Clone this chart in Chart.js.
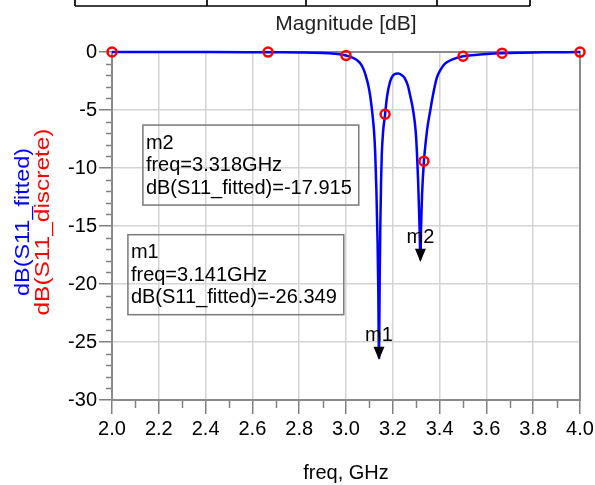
<!DOCTYPE html>
<html>
<head>
<meta charset="utf-8">
<script src="https://cdn.jsdelivr.net/npm/chart.js@4"></script>
<style>
  html, body { margin: 0; padding: 0; background: #fff; }
</style>
</head>
<body>
<canvas id="myChart" width="595" height="485"></canvas>
<script>
'use strict';

// fitted curve
const freqFit = [2.0, 2.2, 2.4, 2.6, 2.7, 2.8, 2.9, 2.95, 3.0, 3.03, 3.05, 3.067, 3.08, 3.088, 3.095,
  3.103, 3.112, 3.12, 3.125, 3.13, 3.135, 3.138, 3.141, 3.144, 3.147, 3.15, 3.153, 3.158, 3.167,
  3.175, 3.188, 3.2, 3.212, 3.224, 3.237, 3.252, 3.265, 3.274, 3.288, 3.298, 3.303, 3.308, 3.312,
  3.315, 3.318, 3.321, 3.325, 3.333, 3.34, 3.348, 3.359, 3.37, 3.387, 3.405, 3.423, 3.45, 3.5,
  3.55, 3.6, 3.667, 3.75, 3.85, 4.0];
const dbFit = [0, -0.01, -0.01, -0.02, -0.03, -0.04, -0.08, -0.15, -0.3, -0.5, -0.75, -1.15, -1.75, -2.29, -2.85,
  -3.73, -5.17, -6.89, -8.8, -12.0, -16.5, -20.5, -26.349, -19.5, -14.5, -11.0, -8.8, -7.0, -5.37,
  -3.9, -2.58, -2.05, -1.88, -1.86, -1.98, -2.29, -2.95, -3.73, -5.17, -6.89, -8.61, -11.0, -13.5,
  -15.6, -17.915, -15.0, -12.3, -9.41, -7.9, -6.5, -5.17, -3.9, -2.29, -1.5, -1.0, -0.68, -0.37,
  -0.25, -0.17, -0.1, -0.06, -0.03, -0.01];

// discrete samples
const freqDisc = [2.0, 2.667, 3.0, 3.167, 3.333, 3.5, 3.667, 4.0];
const dbDisc = [0, -0.01, -0.3, -5.37, -9.41, -0.37, -0.1, -0.01];

// markers
const markerNames = ['m1', 'm2'];
const markerFreq = [3.141, 3.318];
const markerDb = [-26.349, -17.915];

const FONT = "'Liberation Sans', Arial, sans-serif";
const font20 = { family: FONT, size: 20 };

const decor = {
  id: 'decor',
  beforeDatasetsDraw(chart) {
    const { ctx, chartArea: a, scales: { x, y } } = chart;
    ctx.save();
    // minor ticks
    ctx.strokeStyle = '#808080';
    ctx.lineWidth = 1.5;
    ctx.beginPath();
    for (let v = -29; v < 0; v++) {
      if (v % 5 === 0) continue;
      const py = Math.round(y.getPixelForValue(v)) + 0.5;
      ctx.moveTo(a.left - 6, py);
      ctx.lineTo(a.left, py);
    }
    for (let i = 1; i < 20; i += 2) {
      const px = Math.round(x.getPixelForValue(2 + i * 0.1)) + 0.5;
      ctx.moveTo(px, a.bottom);
      ctx.lineTo(px, a.bottom + 8);
    }
    ctx.stroke();
    // frame
    ctx.strokeStyle = '#8a8a8a';
    ctx.lineWidth = 2;
    ctx.strokeRect(a.left, a.top, a.right - a.left, a.bottom - a.top);
    ctx.restore();
  },
  afterDatasetsDraw(chart) {
    const { ctx, scales: { x, y } } = chart;
    ctx.save();
    ctx.font = '20px ' + FONT;
    // marker arrows
    markerNames.forEach((name, i) => {
      const px = x.getPixelForValue(markerFreq[i]);
      const py = y.getPixelForValue(markerDb[i]) + 2;
      ctx.fillStyle = '#000';
      ctx.beginPath();
      ctx.moveTo(px, py);
      ctx.lineTo(px - 5.5, py - 13);
      ctx.lineTo(px + 5.5, py - 13);
      ctx.closePath();
      ctx.fill();
      ctx.textAlign = 'center';
      ctx.textBaseline = 'alphabetic';
      ctx.fillText(name, px, py - 19);
    });
    // readout boxes
    const boxAt = { m1: [2.068, -15.75], m2: [2.132, -6.3] };
    markerNames.forEach((name, i) => {
      const lines = [name, 'freq=' + markerFreq[i].toFixed(3) + 'GHz',
        'dB(S11_fitted)=' + markerDb[i].toFixed(3)];
      const left = x.getPixelForValue(boxAt[name][0]);
      const top = y.getPixelForValue(boxAt[name][1]);
      const w = Math.max(...lines.map(t => ctx.measureText(t).width)) + 10;
      ctx.strokeStyle = '#7a7a7a';
      ctx.lineWidth = 1.5;
      ctx.strokeRect(left, top, w, 80);
      ctx.fillStyle = '#000';
      ctx.textAlign = 'left';
      ctx.textBaseline = 'middle';
      lines.forEach((t, k) => ctx.fillText(t, left + 3, top + 18 + k * 22.5));
    });
    ctx.restore();
  },
  afterDraw(chart) {
    const { ctx, chartArea: a } = chart;
    const mid = (a.top + a.bottom) / 2 - 4;
    ctx.save();
    ctx.font = '21px ' + FONT;
    ctx.textAlign = 'center';
    ctx.textBaseline = 'middle';
    [['dB(S11_fitted)', '#0000ff', 23, 148], ['dB(S11_discrete)', '#ff0000', 43, 187]].forEach(([t, c, cx, len]) => {
      ctx.save();
      ctx.translate(cx, mid);
      ctx.rotate(-Math.PI / 2);
      ctx.scale(len / ctx.measureText(t).width, 1);
      ctx.fillStyle = c;
      ctx.fillText(t, 0, 0);
      ctx.restore();
    });
    // cut-off table above the plot
    ctx.strokeStyle = '#000';
    ctx.lineWidth = 1.7;
    ctx.beginPath();
    ctx.moveTo(75, 6);
    ctx.lineTo(530, 6);
    [75, 207, 306, 437, 530].forEach(px => { ctx.moveTo(px, 0); ctx.lineTo(px, 6); });
    ctx.stroke();
    ctx.restore();
  }
};

const data = {
  datasets: [
    {
      label: 'dB(S11_discrete)',
      data: freqDisc.map((f, i) => ({ x: f, y: dbDisc[i] })),
      showLine: false,
      clip: 8,
      pointRadius: 4.5,
      pointBorderWidth: 2.5,
      pointBorderColor: '#ff0000',
      pointBackgroundColor: 'rgba(0,0,0,0)',
      order: 0,
    },
    {
      label: 'dB(S11_fitted)',
      data: freqFit.map((f, i) => ({ x: f, y: dbFit[i] })),
      showLine: true,
      clip: 4,
      borderColor: '#0000ff',
      borderWidth: 2.5,
      pointRadius: 0,
      cubicInterpolationMode: 'monotone',
      order: 1,
    },
  ],
};

const config = {
  type: 'scatter',
  data: data,
  plugins: [decor],
  options: {
    responsive: false,
    animation: false,
    layout: { padding: { left: 0, right: 0, top: 0, bottom: 0 } },
    plugins: { legend: { display: false }, tooltip: { enabled: false } },
    scales: {
      x: {
        type: 'linear', position: 'bottom', min: 2, max: 4,
        ticks: { stepSize: 0.2, autoSkip: false, maxRotation: 0, padding: 3, color: '#000', font: font20,
          callback: v => v.toFixed(1) },
        grid: { color: '#d4d4d4', lineWidth: 1.5, tickLength: 14, tickColor: '#808080', tickWidth: 1.5 },
        border: { color: '#8a8a8a', width: 2 },
        title: { display: true, text: 'freq, GHz', color: '#000', font: font20, padding: { top: 0, bottom: 0 } },
        afterFit: s => { s.height = 85; s.paddingRight = 15; },
      },
      xTop: {
        type: 'linear', position: 'top', min: 2, max: 4,
        ticks: { display: false },
        grid: { display: false, drawTicks: false },
        border: { display: false },
        title: { display: true, text: 'Magnitude [dB]', color: '#222', font: { family: FONT, size: 21 },
          padding: { top: 12, bottom: 0 } },
        afterFit: s => { s.height = 52; },
      },
      y: {
        min: -30, max: 0,
        ticks: { stepSize: 5, padding: 2, color: '#000', font: font20 },
        grid: { color: '#d4d4d4', lineWidth: 1.5, tickLength: 13, tickColor: '#808080', tickWidth: 1.5 },
        border: { color: '#8a8a8a', width: 2 },
        afterFit: s => { s.width = 112; },
      },
    },
  },
};

const myChart = new Chart(document.getElementById('myChart'), config);
</script>
</body>
</html>
